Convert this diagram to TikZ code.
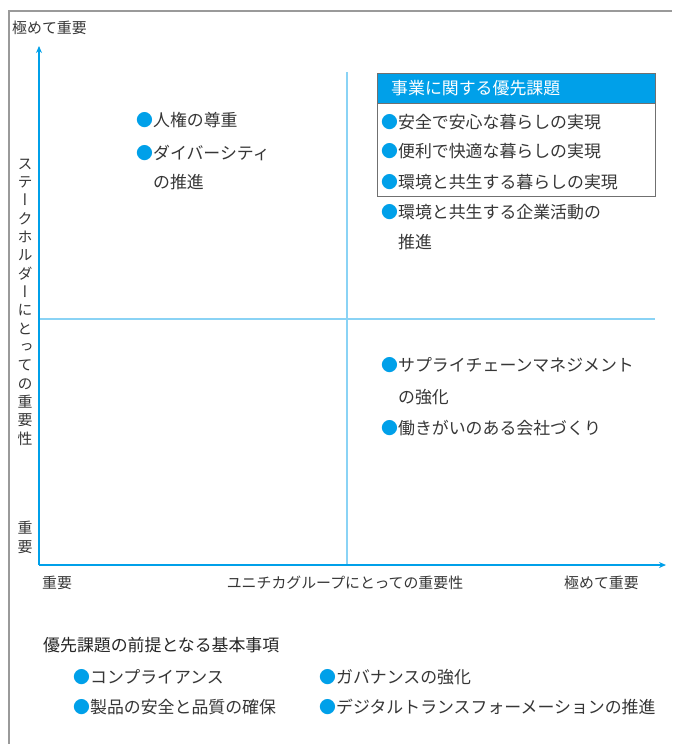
\documentclass[tikz,border=0pt]{standalone}
\usepackage{fontspec}
\usetikzlibrary{arrows.meta}
\newfontfamily\jp{Noto Sans CJK JP}
\newfontfamily\jpv[RawFeature=+vert]{Noto Sans CJK JP}
\definecolor{cyanax}{HTML}{00A0E9}
\definecolor{cyanmid}{HTML}{8AD3F5}
\definecolor{txt}{HTML}{363636}
\definecolor{framec}{HTML}{9A9A9A}
\definecolor{boxc}{HTML}{707070}
\newcommand{\bul}{{\color{cyanax}●}}
\begin{document}
\begin{tikzpicture}[x=1pt,y=-1pt,
  item/.style={anchor=west,inner sep=0pt,text=txt,font=\jp\fontsize{16.9}{18}\selectfont},
  axlab/.style={inner sep=0pt,text=txt,font=\jp\fontsize{14.9}{16}\selectfont},
  axis/.style={draw=cyanax,line width=2.4pt,-{Stealth[length=7pt,width=6pt]}},
  midline/.style={draw=cyanmid,line width=1.1pt}]
\useasboundingbox (0,0) rectangle (673,744);
\fill[white] (0,0) rectangle (673,744);
% frame
\coordinate (fl) at (9,744);
\coordinate (ftl) at (9,11);
\coordinate (ftr) at (672,11);
\draw[framec,line width=1.4pt] (fl) -- (ftl) -- (ftr);
% axes
\coordinate (O) at (39,565);
\coordinate (Ytop) at (39,46);
\coordinate (Xend) at (666,565);
\coordinate (vmt) at (347,72);
\coordinate (vmb) at (347,565);
\coordinate (hml) at (39,319);
\coordinate (hmr) at (655,319);
\draw[midline] (vmt) -- (vmb);
\draw[midline] (hml) -- (hmr);
\draw[axis] (O) -- (Ytop);
\draw[axis] (O) -- (Xend);
% axis labels
\node[axlab,anchor=west] (ytoplab) at (12,28) {極めて重要};
\node[axlab,align=center,font=\jpv\fontsize{14.9}{18.33}\selectfont] (ylab) at (25,302) {ス\\テ\\ー\\ク\\ホ\\ル\\ダ\\ー\\に\\と\\っ\\て\\の\\重\\要\\性};
\node[axlab,align=center,font=\jpv\fontsize{14.9}{19}\selectfont] (ybot) at (25,537) {重\\要};
\node[axlab,anchor=west] (xlow) at (42,583) {重要};
\node[axlab] (xlab) at (345,583) {ユニチカグループにとっての重要性};
\node[axlab,anchor=west] (xhigh) at (564,583) {極めて重要};
% top-left quadrant
\node[item] (tl1) at (136,120) {\bul 人権の尊重};
\node[item] (tl2) at (136,153) {\bul ダイバーシティ};
\node[item] (tl2b) at (152.9,182) {の推進};
% top-right box
\node[draw=boxc,line width=1pt,fill=cyanax,anchor=north west,minimum width=278pt,minimum height=30pt,inner sep=0pt] (hdr) at (377,73) {};
\draw[boxc,line width=1pt] (hdr.north west) rectangle (655,196);
\node[item,text=white] (hdrt) at (391,88) {事業に関する優先課題};
\node[item] (b1) at (381,122) {\bul 安全で安心な暮らしの実現};
\node[item] (b2) at (381,151) {\bul 便利で快適な暮らしの実現};
\node[item] (b3) at (381,182) {\bul 環境と共生する暮らしの実現};
\node[item] (b4) at (381,212) {\bul 環境と共生する企業活動の};
\node[item] (b4b) at (397.9,242) {推進};
% bottom-right quadrant
\node[item] (br1) at (381,365) {\bul サプライチェーンマネジメント};
\node[item] (br1b) at (397.9,397) {の強化};
\node[item] (br2) at (381,428) {\bul 働きがいのある会社づくり};
% bottom section
\node[item,text=black!85] (ft) at (43,645) {優先課題の前提となる基本事項};
\node[item] (f1) at (73,677) {\bul コンプライアンス};
\node[item] (f2) at (73,707) {\bul 製品の安全と品質の確保};
\node[item] (f3) at (319,677) {\bul ガバナンスの強化};
\node[item] (f4) at (319,707) {\bul デジタルトランスフォーメーションの推進};
\end{tikzpicture}
\end{document}
